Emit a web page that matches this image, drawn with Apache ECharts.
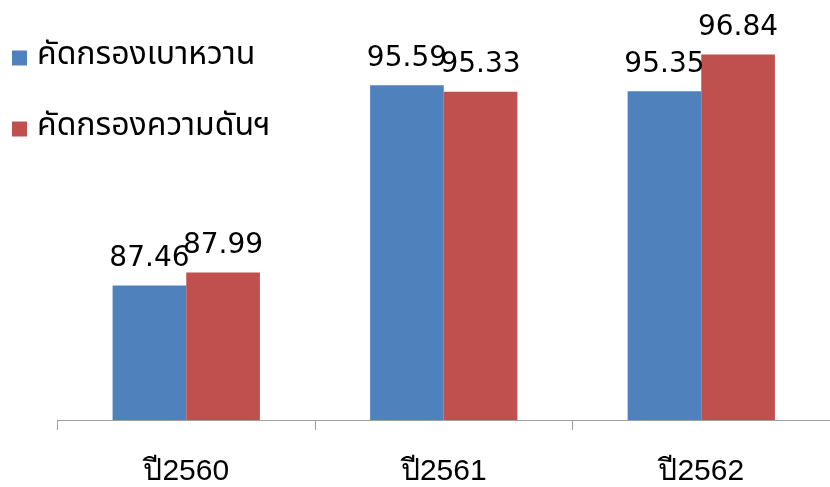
<!DOCTYPE html>
<html>
<head>
<meta charset="utf-8">
<script src="https://cdn.jsdelivr.net/npm/echarts@6/dist/echarts.min.js"></script>
<style>
  html, body { margin: 0; padding: 0; background: #ffffff; }
  #chart { width: 830px; height: 487px; }
</style>
</head>
<body>
<div id="chart"></div>
<script>
// Screening coverage (%) by fiscal year
const categories = ['ปี2560', 'ปี2561', 'ปี2562'];
const seriesNames = ['คัดกรองเบาหวาน', 'คัดกรองความดันฯ'];
const diabetesScreening = [87.46, 95.59, 95.35];
const pressureScreening = [87.99, 95.33, 96.84];

const chart = echarts.init(document.getElementById('chart'), null, { renderer: 'canvas' });

const valueLabel = {
  show: true,
  position: 'top',
  distance: 13,
  color: '#000000',
  fontFamily: 'DejaVu Sans',
  fontSize: 28,
  formatter: p => p.value.toFixed(2)
};

chart.setOption({
  animation: false,
  backgroundColor: '#ffffff',
  legend: {
    orient: 'vertical',
    left: 12,
    top: 41,
    padding: 0,
    itemWidth: 15,
    itemHeight: 15,
    itemGap: 37,
    icon: 'rect',
    textStyle: {
      color: '#000000',
      fontFamily: 'Tahoma, "Noto Sans Thai", "DejaVu Sans", sans-serif',
      fontSize: 32,
      lineHeight: 34,
      padding: [0, 0, 0, 5]
    },
    data: seriesNames
  },
  grid: {
    left: 57.5,
    width: 774,
    top: 26,
    bottom: 67,
    containLabel: false
  },
  xAxis: {
    type: 'category',
    data: categories,
    axisLine: { show: true, lineStyle: { color: '#a0a0a0', width: 1 } },
    axisTick: { show: true, length: 10, lineStyle: { color: '#a0a0a0', width: 1 } },
    axisLabel: {
      color: '#000000',
      fontFamily: '"Liberation Sans", sans-serif',
      fontSize: 30,
      margin: 37
    }
  },
  yAxis: {
    type: 'value',
    min: 82,
    max: 98,
    show: false,
    splitLine: { show: false }
  },
  series: [
    {
      name: seriesNames[0],
      type: 'bar',
      data: diabetesScreening,
      barGap: '0%',
      barCategoryGap: '42.8%',
      itemStyle: { color: '#4F81BD' },
      label: valueLabel
    },
    {
      name: seriesNames[1],
      type: 'bar',
      data: pressureScreening,
      barGap: '0%',
      barCategoryGap: '42.8%',
      itemStyle: { color: '#C0504D' },
      label: valueLabel
    }
  ]
});
</script>
</body>
</html>
